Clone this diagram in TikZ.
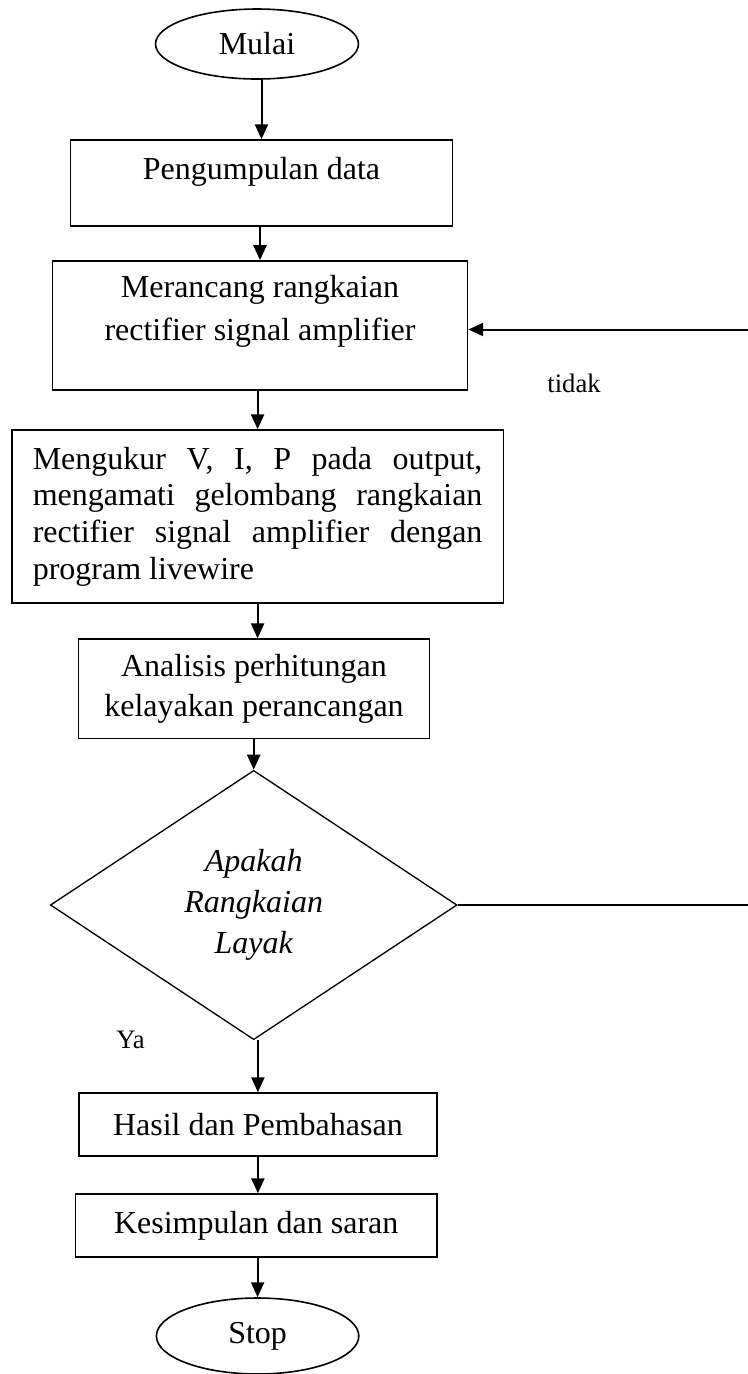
\documentclass[tikz,border=0pt]{standalone}
\usepackage{fontspec}
\setmainfont{Liberation Serif}
\usetikzlibrary{arrows.meta}
\usetikzlibrary{shapes.geometric}

\begin{document}
\begin{tikzpicture}[x=0.375pt,y=0.375pt,yscale=-1,xscale=1,
  kotak/.style={draw, rectangle, line width=0.6pt, inner sep=0pt, align=center, font=\fontsize{12}{15}\selectfont},
  ujung/.style={draw, ellipse, line width=0.6pt, inner sep=0pt, font=\fontsize{12}{14}\selectfont},
  belah/.style={draw, diamond, line width=0.5pt, inner sep=0pt, align=center, font=\fontsize{12}{15.4}\selectfont\itshape},
  teks/.style={inner sep=0pt, align=center, font=\fontsize{12}{16.2}\selectfont},
  ket/.style={inner sep=0pt, font=\fontsize{10}{12}\selectfont},
  panah/.style={line width=0.75pt, -{Triangle[length=5.6pt,width=4.9pt]}}]
%uncomment if require: \path (0,1374); %set diagram left start at 0, and has height of 1374
\useasboundingbox (0,0) rectangle (748,1374);

%Shape: Ellipse [id:mulai]
\node [ujung, minimum width=76.1pt, minimum height=26.25pt] (mulai) at (257,44) {Mulai};
%Shape: Rectangle [id:pengumpulan]
\node [kotak, minimum width=143.25pt, minimum height=32.25pt] (pengumpulan) at (261.5,183) {};
%Shape: Rectangle [id:merancang]
\node [kotak, minimum width=155.6pt, minimum height=48.4pt] (merancang) at (260,325.5) {};
%Shape: Rectangle [id:mengukur]
\node [kotak, minimum width=184.3pt, minimum height=64.8pt, text width=168.6pt, align=justify, font=\fontsize{12}{13.75}\selectfont] (mengukur) at (257.6,516.4) {Mengukur V, I, P pada output,\linebreak mengamati gelombang rangkaian\linebreak rectifier signal amplifier dengan\linebreak program livewire};
%Shape: Rectangle [id:analisis]
\node [kotak, minimum width=131.5pt, minimum height=37.2pt] (analisis) at (254,688.7) {Analisis perhitungan\\kelayakan perancangan};
%Shape: Diamond [id:keputusan]
\node [belah, minimum width=152.5pt, minimum height=101pt] (keputusan) at (253.7,905) {Apakah\\Rangkaian\\Layak};
%Shape: Rectangle [id:hasil]
\node [kotak, minimum width=134.4pt, minimum height=23.5pt] (hasil) at (257.9,1124.4) {Hasil dan Pembahasan};
%Shape: Rectangle [id:kesimpulan]
\node [kotak, minimum width=135.6pt, minimum height=23.5pt] (kesimpulan) at (256.2,1225.4) {Kesimpulan dan saran};
%Shape: Ellipse [id:stop]
\node [ujung, minimum width=75.9pt, minimum height=28.5pt] (stop) at (257.6,1336) {Stop};
\coordinate (tepi) at (752,905);

% Text Node
\node [teks] (pengumpulan-teks) at (261.5,172) {Pengumpulan data};
% Text Node
\node [teks] (merancang-teks) at (260,311.5) {Merancang rangkaian\\rectifier signal amplifier};
% Text Node
\node [ket] (tidak) at (574,383) {tidak};
% Text Node
\node [ket] (ya) at (130.5,1040) {Ya};

%Straight Lines
\draw [panah] (mulai.south -| pengumpulan.north) -- (pengumpulan.north);
\draw [panah] (pengumpulan.south -| merancang.north) -- (merancang.north);
\draw [panah] (merancang.south -| mengukur.north) -- (mengukur.north);
\draw [panah] (mengukur.south) -- (mengukur.south |- analisis.north);
\draw [panah] (analisis.south -| keputusan.north) -- (keputusan.north);
\draw [panah] (keputusan.south -| hasil.north) -- (hasil.north);
\draw [panah] (hasil.south) -- (hasil.south |- kesimpulan.north);
\draw [panah] (kesimpulan.south -| stop.north) -- (stop.north);
%Straight Lines
\draw [panah] (keputusan.east) -- (tepi) |- ([yshift=1.5pt]merancang.east);

\end{tikzpicture}
\end{document}
